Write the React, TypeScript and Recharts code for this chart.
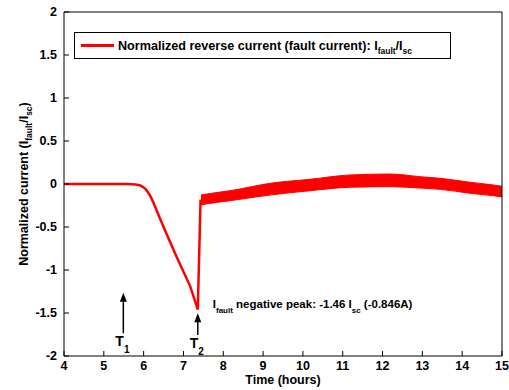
import React from 'react'
import {
  ComposedChart,
  Line,
  Area,
  XAxis,
  YAxis,
  Legend,
  ReferenceLine,
  ReferenceDot,
} from 'recharts'

// pre-fault and fault transient (hours, normalized current)
const PRE_X = [4, 5, 5.6, 5.8, 5.9, 5.95, 6.0, 6.05, 6.1, 6.18, 6.25, 6.5, 6.83, 7.17, 7.36, 7.43]
const PRE_Y = [0, 0, 0, -0.005, -0.015, -0.025, -0.04, -0.06, -0.09, -0.15, -0.22, -0.5, -0.85, -1.19, -1.46, -0.18]

// oscillating band after T2 (lower / upper envelope)
const BAND_X = [7.44, 7.6, 8.17, 9.18, 10.18, 11.19, 12.19, 12.94, 13.45, 14.2, 14.95, 15]
const BAND_LO = [-0.244, -0.23, -0.194, -0.128, -0.078, -0.038, -0.031, -0.047, -0.062, -0.108, -0.148, -0.152]
const BAND_HI = [-0.128, -0.115, -0.078, 0.008, 0.055, 0.105, 0.116, 0.085, 0.066, 0.02, -0.023, -0.027]

const X_TICKS = [4, 5, 6, 7, 8, 9, 10, 11, 12, 13, 14, 15]
const Y_TICKS = [-2, -1.5, -1, -0.5, 0, 0.5, 1, 1.5, 2]

const T1 = { x: 5.49, tail: -1.736, tip: -1.264 }
const T2 = { x: 7.36, tail: -1.756, tip: -1.503 }
const PEAK = { x: 7.36, y: -1.46 }

const FONT = '"Liberation Sans", Arial, Helvetica, sans-serif'
const RED = '#ff0000'

const rows = [
  ...PRE_X.map((x, i) => ({ x, cur: PRE_Y[i] })),
  ...BAND_X.map((x, i) => ({ x, band: [BAND_LO[i], BAND_HI[i]] })),
]

const tickStyle = { fill: '#000', fontSize: 12.5, fontWeight: 'bold', fontFamily: FONT }

const makeArrow = (sub: string) => (p: any) => {
  const { x1, y1, x2, y2 } = p
  return (
    <g>
      <line x1={x1} y1={y1} x2={x2} y2={y2 + 6} stroke="#000" strokeWidth={1.5} />
      <polygon points={`${x2},${y2} ${x2 - 3.5},${y2 + 9} ${x2 + 3.5},${y2 + 9}`} fill="#000" />
      <text x={x1 - 8} y={y1 + 13} fontFamily={FONT} fontWeight="bold" fontSize={14} fill="#000">
        T<tspan dy={7} fontSize={10}>{sub}</tspan>
      </text>
    </g>
  )
}

const PeakNote = (p: any) => (
  <text x={p.cx + 15} y={p.cy - 2} fontFamily={FONT} fontWeight="bold" fontSize={11.5} fill="#000">
    I<tspan dy={5} fontSize={8}>fault</tspan>
    <tspan dy={-5}> negative peak: -1.46 I</tspan>
    <tspan dy={5} fontSize={8}>sc</tspan>
    <tspan dy={-5}> (-0.846A)</tspan>
  </text>
)

const YLabel = (p: any) => {
  const vb = p.viewBox
  const cx = 28
  const cy = vb.y + vb.height / 2
  return (
    <text
      x={cx}
      y={cy}
      transform={`rotate(-90, ${cx}, ${cy})`}
      textAnchor="middle"
      fontFamily={FONT}
      fontWeight="bold"
      fontSize={12.5}
      fill="#000"
    >
      Normalized current (I<tspan dy={4} fontSize={8.5}>fault</tspan>
      <tspan dy={-4}>/I</tspan>
      <tspan dy={4} fontSize={8.5}>sc</tspan>
      <tspan dy={-4}>)</tspan>
    </text>
  )
}

const LegendBox = () => (
  <div
    style={{
      width: 377,
      height: 27,
      boxSizing: 'border-box',
      border: '1px solid #000',
      background: '#fff',
      display: 'flex',
      alignItems: 'center',
      fontFamily: FONT,
      fontWeight: 'bold',
      fontSize: 12.6,
      color: '#000',
      whiteSpace: 'nowrap',
    }}
  >
    <span style={{ display: 'inline-block', width: 33, height: 3, background: RED, marginLeft: 6, marginRight: 4 }} />
    <span>
      Normalized reverse current (fault current): I
      <span style={{ fontSize: 8.5, position: 'relative', top: 4 }}>fault</span>/I
      <span style={{ fontSize: 8.5, position: 'relative', top: 4 }}>sc</span>
    </span>
  </div>
)

export default function App() {
  return (
    <div style={{ position: 'absolute', left: 0, top: 0, background: '#fff' }}>
      <ComposedChart
        width={509}
        height={390}
        data={rows}
        margin={{ top: 11, right: 6, bottom: 0, left: 0 }}
      >
        <XAxis
          dataKey="x"
          type="number"
          domain={[4, 15]}
          ticks={X_TICKS}
          allowDataOverflow
          height={34}
          stroke="#000"
          tickSize={-5}
          tickMargin={10}
          tick={tickStyle}
          label={{ value: 'Time (hours)', position: 'insideBottom', offset: 6, fill: '#000', fontSize: 12.5, fontWeight: 'bold', fontFamily: FONT }}
        />
        <XAxis
          xAxisId="top"
          orientation="top"
          dataKey="x"
          type="number"
          domain={[4, 15]}
          ticks={X_TICKS}
          height={1}
          stroke="#000"
          tickSize={-5}
          tick={false}
        />
        <YAxis
          type="number"
          domain={[-2, 2]}
          ticks={Y_TICKS}
          allowDataOverflow
          width={64}
          stroke="#000"
          tickSize={-5}
          tickMargin={12}
          tick={tickStyle}
          label={<YLabel />}
        />
        <YAxis
          yAxisId="right"
          orientation="right"
          type="number"
          domain={[-2, 2]}
          ticks={Y_TICKS}
          width={1}
          stroke="#000"
          tickSize={-5}
          tick={false}
        />
        <Legend
          layout="horizontal"
          verticalAlign="middle"
          align="center"
          content={<LegendBox />}
          wrapperStyle={{ position: 'absolute', left: 74, top: 32, width: 'auto' }}
        />
        <Area
          dataKey="band"
          type="monotone"
          stroke={RED}
          strokeWidth={1}
          fill={RED}
          fillOpacity={1}
          isAnimationActive={false}
          legendType="none"
        />
        <Line
          dataKey="cur"
          type="linear"
          stroke={RED}
          strokeWidth={2.5}
          dot={false}
          isAnimationActive={false}
          name="Normalized reverse current (fault current)"
        />
        <ReferenceLine
          segment={[{ x: T1.x, y: T1.tail }, { x: T1.x, y: T1.tip }]}
          shape={makeArrow('1')}
        />
        <ReferenceLine
          segment={[{ x: T2.x, y: T2.tail }, { x: T2.x, y: T2.tip }]}
          shape={makeArrow('2')}
        />
        <ReferenceDot x={PEAK.x} y={PEAK.y} r={0} shape={PeakNote} />
      </ComposedChart>
    </div>
  )
}
